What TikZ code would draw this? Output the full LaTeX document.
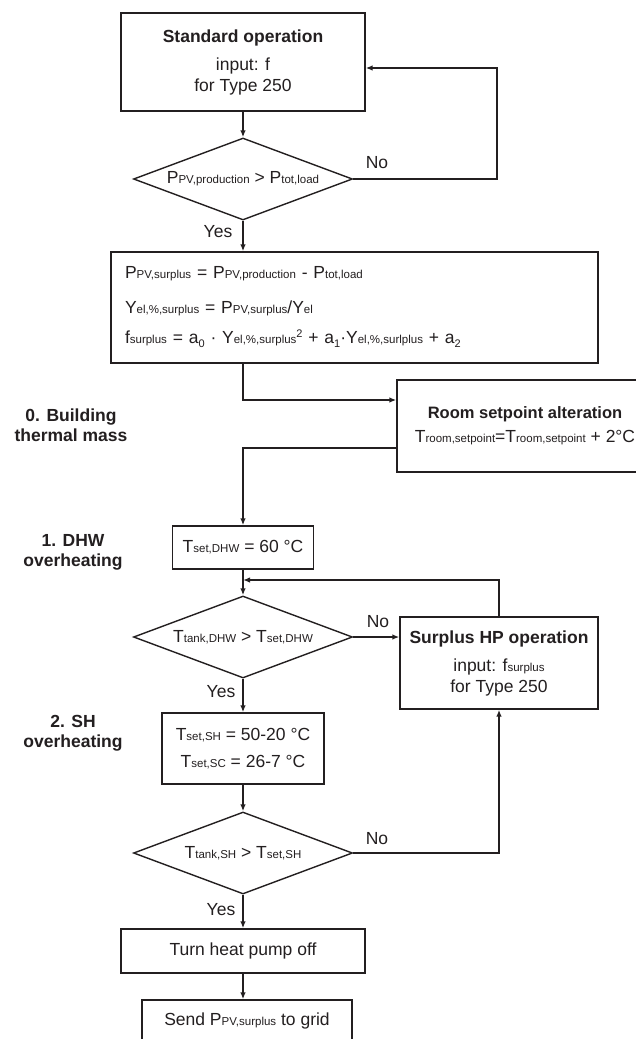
\documentclass[tikz,border=0pt]{standalone}
\usepackage{fontspec}
\setmainfont{Liberation Sans}
\usetikzlibrary{shapes.geometric,arrows.meta,calc}
\definecolor{ink}{RGB}{35,31,32}
\newcommand{\sbt}[1]{{\fontsize{11.5}{12}\selectfont #1}}
\newcommand{\lsub}[1]{\raisebox{-4pt}{\fontsize{11}{12}\selectfont #1}}
\newcommand{\usup}[1]{\raisebox{6pt}{\fontsize{11}{12}\selectfont #1}}
\begin{document}
\begin{tikzpicture}[x=1pt,y=1pt,
  line width=1.4pt, color=ink,
  box/.style={draw, rectangle, inner sep=0pt, align=center, font=\fontsize{17.5}{21}\selectfont},
  dec/.style={draw, diamond, aspect=2.67, minimum width=219pt, minimum height=82pt, inner sep=0pt, font=\fontsize{17.5}{21}\selectfont},
  lbl/.style={font=\fontsize{17.5}{21}\selectfont, inner sep=0pt},
  side/.style={font=\bfseries\fontsize{17.5}{20}\selectfont, align=center, inner sep=0pt},
  arr/.style={-{Latex[length=7pt,width=5.5pt]}},
]
\fill[white] (0,0) rectangle (636,-1039);
\useasboundingbox (0,0) rectangle (636,-1039);

% nodes
\node[box, minimum width=244pt, minimum height=98pt] (std) at (243,-62)
  {\textbf{Standard operation}\\[7pt] input: f\\ for Type 250};
\node[dec] (d1) at (243,-179) {P\sbt{PV,production} > P\sbt{tot,load}};
\node[box, minimum width=487pt, minimum height=111pt, align=left, text width=459pt] (calc) at (354.5,-307.5)
  {P\sbt{PV,surplus} = P\sbt{PV,production} - P\sbt{tot,load}\\[14pt]
   Y\sbt{el,\%,surplus} = P\sbt{PV,surplus}/Y\sbt{el}\\[9pt]
   f\sbt{surplus} = a\lsub{0} · Y\sbt{el,\%,surplus}\usup{2} + a\lsub{1}·Y\sbt{el,\%,surlplus} + a\lsub{2}};
\node[box, minimum width=256pt, minimum height=92pt] (room) at (525,-426)
  {{\fontsize{16.5}{20}\selectfont\textbf{Room setpoint alteration}}\\[3pt]
   T\sbt{room,setpoint}=T\sbt{room,setpoint} + 2°C};
\node[side] (s0) at (71,-425) {0. Building\\thermal mass};
\node[side] (s1) at (73,-552) {1. DHW\\overheating};
\node[side] (s2) at (73,-733) {2. SH\\overheating};
\node[box, minimum width=141pt, minimum height=43pt] (dhw) at (243,-547.5) {T\sbt{set,DHW} = 60 °C};
\node[dec] (d2) at (243,-637) {T\sbt{tank,DHW} > T\sbt{set,DHW}};
\node[box, minimum width=198pt, minimum height=92pt] (sur) at (499,-663)
  {\textbf{Surplus HP operation}\\[7pt] input: f\sbt{surplus}\\ for Type 250};
\node[box, minimum width=162pt, minimum height=71pt] (sh) at (243,-748.5)
  {T\sbt{set,SH} = 50-20 °C\\[6pt] T\sbt{set,SC} = 26-7 °C};
\node[dec] (d3) at (243,-853) {T\sbt{tank,SH} > T\sbt{set,SH}};
\node[box, minimum width=244pt, minimum height=44pt] (off) at (243,-951) {Turn heat pump off};
\node[box, minimum width=210pt, minimum height=41pt] (send) at (247,-1020.5) {Send P\sbt{PV,surplus} to grid};

% labels
\node[lbl] (no1) at (377,-163) {No};
\node[lbl] (yes1) at (218,-232) {Yes};
\node[lbl] (no2) at (378,-622) {No};
\node[lbl] (yes2) at (221,-692) {Yes};
\node[lbl] (no3) at (377,-839) {No};
\node[lbl] (yes3) at (221,-910) {Yes};

% connectors
\coordinate (c1) at (497,-179);
\coordinate (e1) at ($(std.east)+(0,-6)$);
\coordinate (j2) at (243,-580);
\draw[arr] (std) -- (d1);
\draw[arr] (d1.east) -- (c1) |- (e1);
\draw[arr] (d1.south) -- (d1.south |- calc.north);
\draw[arr] (calc.south -| d1.south) |- ($(room.west)+(0,26)$);
\draw[arr] ($(room.west)+(0,-22)$) -| (dhw.north);
\draw[arr] (dhw) -- (d2);
\draw[arr] (sur.north) |- (j2);
\draw[arr] (d2.east) -- (d2.east -| sur.west);
\draw[arr] (d2) -- (sh);
\draw[arr] (sh) -- (d3);
\draw[arr] (d3.east) -| (sur.south);
\draw[arr] (d3) -- (off);
\draw[arr] (off.south) -- (off.south |- send.north);
\end{tikzpicture}
\end{document}
